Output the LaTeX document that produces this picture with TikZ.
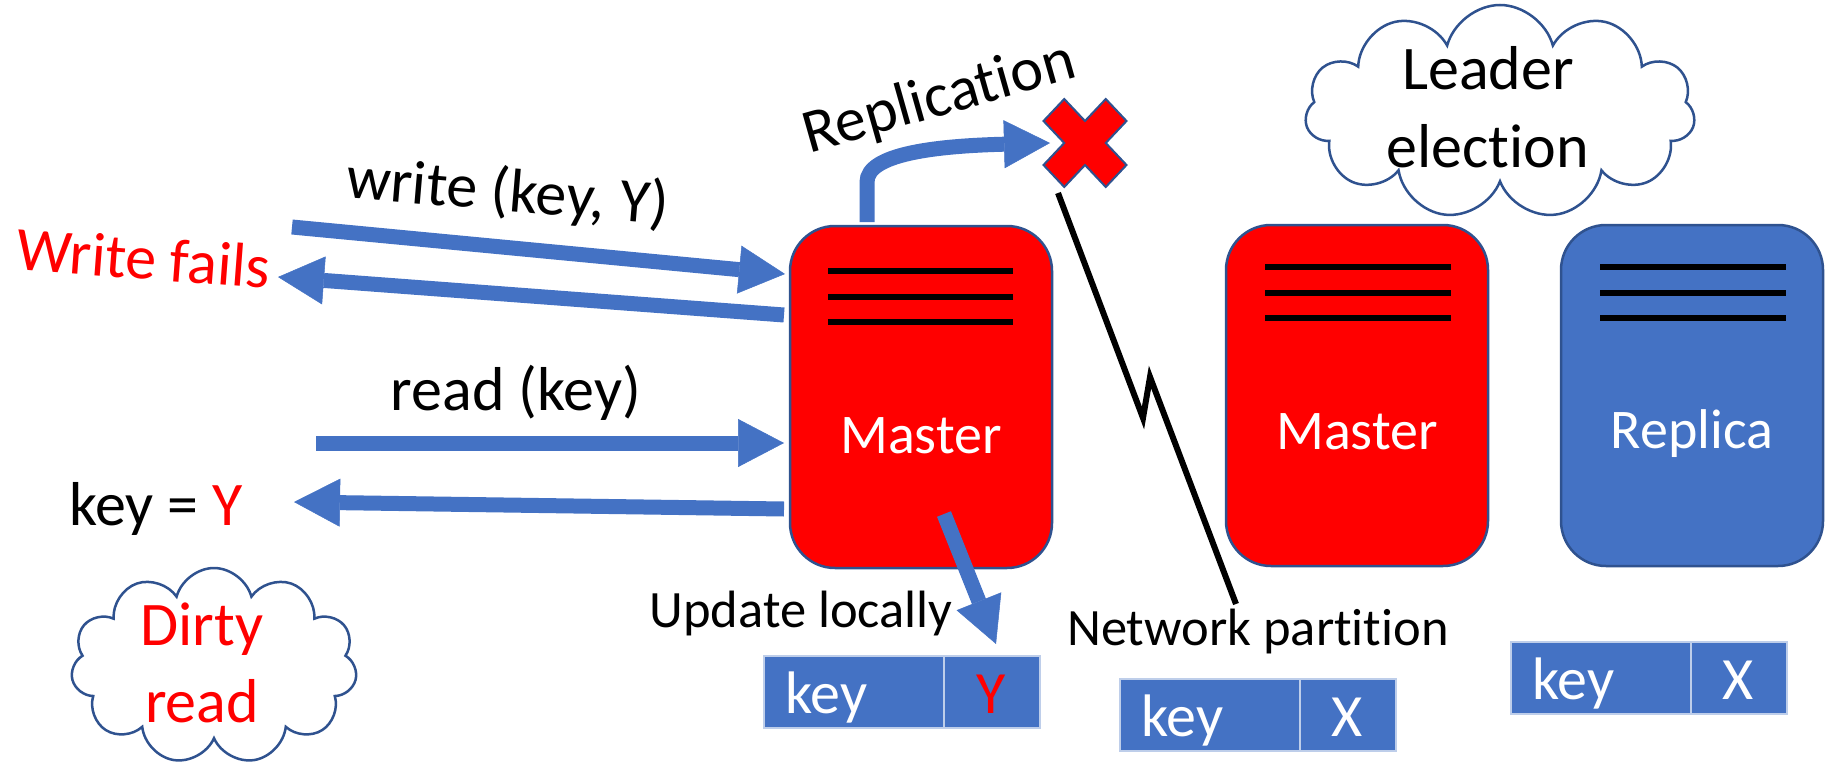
\documentclass[tikz,border=0pt]{standalone}
\usepackage{fontspec}
\setmainfont{Carlito}[Ligatures={NoCommon}]
\usetikzlibrary{arrows.meta,shapes.symbols}
\definecolor{pblue}{HTML}{4472C4}
\definecolor{pline}{HTML}{2F528F}
\definecolor{pred}{HTML}{FF0000}
\begin{document}
\begin{tikzpicture}[x=1pt,y=-1pt,
  server/.style={draw=pline,line width=2.5pt,rounded corners=45pt,minimum width=262pt,inner sep=0pt},
  srvline/.style={line width=6pt},
  bigarrow/.style={draw=pblue,line width=15pt,-{Triangle[length=46pt,width=48pt,line width=0.5pt]}},
  kvcell/.style={fill=pblue,draw=white!65!pblue,line width=1.5pt,minimum height=72pt,inner sep=0pt,anchor=north west},
  big/.style={inner sep=0pt,font=\fontsize{62}{74}\selectfont},
  mid/.style={inner sep=0pt,font=\fontsize{56}{66}\selectfont},
  small/.style={inner sep=0pt,font=\fontsize{52.5}{62}\selectfont},
  kvtxt/.style={inner sep=0pt,font=\fontsize{60}{70}\selectfont,text=white},
  thought/.style={cloud,cloud puffs=11,cloud ignores aspect,draw=pline,line width=2.5pt,fill=white,inner sep=0pt}
]
\useasboundingbox (0,0) rectangle (1830,765);

% servers
\node[server,fill=pred,minimum height=342pt] (m1) at (921,397) {};
\node[server,fill=pred,minimum height=341pt] (m2) at (1357,395.5) {};
\node[server,fill=pblue,minimum height=341pt] (rep) at (1692,395.5) {};
\foreach \y in {271,297,322} \draw[srvline] (828,\y) -- (1013,\y);
\foreach \y in {267,293,318} {\draw[srvline] (1265,\y) -- (1451,\y); \draw[srvline] (1600,\y) -- (1786,\y);}
\node[mid,text=white,anchor=base] (m1t) at (921,453) {Master};
\node[mid,text=white,anchor=base] (m2t) at (1357,449) {Master};
\node[mid,text=white,anchor=base] (rept) at (1692,448) {Replica};

% arrow end points
\coordinate (wa) at (292,227); \coordinate (wb) at (785,274);
\coordinate (fa) at (784,315); \coordinate (fb) at (278,277);
\coordinate (ra) at (316,443); \coordinate (rb) at (784,443);
\coordinate (ka) at (784,509); \coordinate (kb) at (294,502);
\coordinate (ua) at (944,514); \coordinate (ub) at (996,644);
\coordinate (pa) at (867,222); \coordinate (xc) at (1085,143); \coordinate (pb) at (1050,143);

\draw[bigarrow] (wa) -- (wb);
\draw[bigarrow] (fa) -- (fb);
\draw[bigarrow] (ra) -- (rb);
\draw[bigarrow] (ka) -- (kb);
\draw[bigarrow] (ua) -- (ub);
\draw[bigarrow] (pa) -- (867,182) .. controls (867,154) and (935,146) .. (pb);

% red cross
\begin{scope}[shift={(xc)},x=41.5pt,y=-44pt]
\draw[draw=pline,fill=pred,line width=2pt] (0,0.5) -- (0.5,1) -- (1,0.5) -- (0.5,0) -- (1,-0.5) -- (0.5,-1) -- (0,-0.5) -- (-0.5,-1) -- (-1,-0.5) -- (-0.5,0) -- (-1,0.5) -- (-0.5,1) -- cycle;
\end{scope}

% network partition line
\coordinate (la) at (1058,193); \coordinate (lb) at (1236,604);
\draw[line width=6pt] (la) -- (1143,418) -- (1150,377) -- (lb);

% key-value boxes
\node[kvcell,minimum width=180pt] (k1) at (763,655) {};
\node[kvcell,minimum width=96pt] (v1) at (943,655) {};
\node[kvcell,minimum width=180pt] (k2) at (1119,678) {};
\node[kvcell,minimum width=96pt] (v2) at (1299,678) {};
\node[kvcell,minimum width=180pt] (k3) at (1510,641) {};
\node[kvcell,minimum width=96pt] (v3) at (1690,641) {};
\node[kvtxt,anchor=base west] (k1t) at (785,713) {key};
\node[kvtxt,anchor=base,text=pred] (v1t) at (991,713) {Y};
\node[kvtxt,anchor=base west] (k2t) at (1141,736) {key};
\node[kvtxt,anchor=base] (v2t) at (1347,736) {X};
\node[kvtxt,anchor=base west] (k3t) at (1532,699) {key};
\node[kvtxt,anchor=base] (v3t) at (1738,699) {X};

% clouds
\node[thought,minimum width=390pt,minimum height=214pt] (lc) at (1500,112) {};
\node[big,anchor=base] (lt1) at (1488,90) {Leader};
\node[big,anchor=base] (lt2) at (1488,167) {election};
\node[thought,minimum width=286pt,minimum height=196pt] (dc) at (214,666) {};
\node[big,anchor=base,text=pred] (dt1) at (202,645) {Dirty};
\node[big,anchor=base,text=pred] (dt2) at (202,722) {read};

% labels
\node[big,anchor=base,rotate=-4.8] (wl) at (506,211) {write (key, Y)};
\node[big,anchor=base,rotate=-4.3,text=pred] (wf) at (142,279) {Write fails};
\node[big,anchor=base] (rl) at (516,410) {read (key)};
\node[big,anchor=base] (kl) at (156,525) {key = \textcolor{pred}{Y}};
\node[big,anchor=base,rotate=15.8] (repl) at (944,115) {Replication};
\node[small,anchor=base] (ul) at (801,627) {Update locally};
\node[small,anchor=base] (nl) at (1258,645) {Network partition};
\end{tikzpicture}
\end{document}
